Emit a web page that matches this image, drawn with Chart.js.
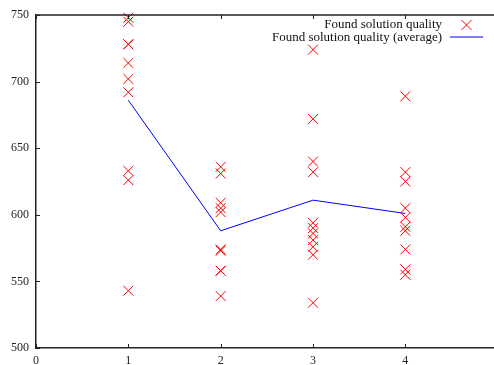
<!DOCTYPE html>
<html>
<head>
<meta charset="utf-8">
<script src="https://cdn.jsdelivr.net/npm/chart.js@4.4.1/dist/chart.umd.min.js"></script>
<style>
  html, body { margin: 0; padding: 0; background: #fff; }
  #wrap { width: 494px; height: 365px; }
</style>
</head>
<body>
<div id="wrap"><canvas id="quality-canvas" width="494" height="365"></canvas></div>
<script>
// x positions of the runs and the qualities found at each one
const xCategories = [1, 2, 3, 4];
const qualityAt1 = [748, 745, 728, 728, 714, 702, 692, 633, 626, 543];
const qualityAt2 = [636, 631, 609, 605, 602, 574, 573, 558, 558, 539];
const qualityAt3 = [724, 672, 640, 632, 594, 590, 586, 581, 576, 570, 534];
const qualityAt4 = [689, 632, 625, 605, 598, 591, 588, 574, 559, 555];
const averageQuality = [686, 588, 611, 601];
const xTicks = [0, 1, 2, 3, 4];
const yTicks = [500, 550, 600, 650, 700, 750];

const samples = [qualityAt1, qualityAt2, qualityAt3, qualityAt4];
const points = [];
xCategories.forEach((x, i) => {
    samples[i].forEach(y => points.push({x: x, y: y}));
});

const AXIS_COLOR = '#222';
const FONT = "'Liberation Serif', serif";

// gnuplot style: inward ticks, top border, key at top right
const gnuplotFrame = {
    id: 'gnuplotFrame',
    afterDatasetsDraw(chart) {
        const ctx = chart.ctx;
        const area = chart.chartArea;
        const xs = chart.scales.x, ys = chart.scales.y;
        ctx.save();
        ctx.strokeStyle = AXIS_COLOR;
        ctx.lineWidth = 1.5;
        ctx.beginPath();
        ctx.moveTo(area.left, area.top);
        ctx.lineTo(area.right, area.top);
        ctx.stroke();
        ctx.lineWidth = 1;
        ctx.beginPath();
        yTicks.forEach(v => {
            const py = Math.round(ys.getPixelForValue(v)) + 0.5;
            ctx.moveTo(area.left, py);
            ctx.lineTo(area.left + 4, py);
        });
        xTicks.forEach(v => {
            const px = Math.round(xs.getPixelForValue(v)) + 0.5;
            ctx.moveTo(px, area.bottom);
            ctx.lineTo(px, area.bottom - 4);
            ctx.moveTo(px, area.top);
            ctx.lineTo(px, area.top + 4);
        });
        ctx.stroke();

        // key
        const ds = chart.data.datasets;
        ctx.font = '13px ' + FONT;
        ctx.fillStyle = '#111';
        ctx.textAlign = 'right';
        ctx.textBaseline = 'middle';
        ctx.fillText(ds[0].label, 442, 25);
        ctx.fillText(ds[1].label, 442, 37.5);
        ctx.strokeStyle = 'red';
        ctx.lineWidth = 1;
        ctx.beginPath();
        ctx.moveTo(466.5 - 5, 25 - 5);
        ctx.lineTo(466.5 + 5, 25 + 5);
        ctx.moveTo(466.5 - 5, 25 + 5);
        ctx.lineTo(466.5 + 5, 25 - 5);
        ctx.stroke();
        ctx.strokeStyle = 'blue';
        ctx.beginPath();
        ctx.moveTo(450, 37);
        ctx.lineTo(483, 37);
        ctx.stroke();
        ctx.restore();
    }
};

new Chart(document.getElementById('quality-canvas'), {
    type: 'scatter',
    data: {
        datasets: [
            {
                label: 'Found solution quality',
                data: points,
                pointStyle: 'crossRot',
                pointRadius: 7,
                pointBorderWidth: 1,
                borderColor: 'red',
                backgroundColor: 'red',
                clip: false
            },
            {
                type: 'line',
                label: 'Found solution quality (average)',
                data: xCategories.map((x, i) => ({x: x, y: averageQuality[i]})),
                borderColor: 'blue',
                borderWidth: 1,
                pointRadius: 0,
                fill: false,
                tension: 0
            }
        ]
    },
    plugins: [gnuplotFrame],
    options: {
        responsive: false,
        animation: false,
        devicePixelRatio: 1,
        layout: { autoPadding: false, padding: { top: 15, right: 0, left: 0, bottom: 0 } },
        plugins: { legend: { display: false }, tooltip: { enabled: false } },
        scales: {
            x: {
                type: 'linear',
                min: 0,
                max: 4.96,
                afterBuildTicks: scale => { scale.ticks = xTicks.map(v => ({value: v})); },
                afterFit: scale => { scale.height = 17; scale.paddingRight = 0; scale.paddingLeft = 0; },
                grid: { display: false, drawTicks: false },
                border: { display: true, color: AXIS_COLOR, width: 1.5 },
                ticks: { padding: 6, color: '#222', font: { family: FONT, size: 12 } }
            },
            y: {
                min: 500,
                max: 750,
                afterBuildTicks: scale => { scale.ticks = yTicks.map(v => ({value: v})); },
                afterFit: scale => { scale.width = 36; },
                grid: { display: false, drawTicks: false },
                border: { display: true, color: AXIS_COLOR, width: 1.5 },
                ticks: { padding: 7, color: '#222', font: { family: FONT, size: 12 } }
            }
        }
    }
});
</script>
</body>
</html>
